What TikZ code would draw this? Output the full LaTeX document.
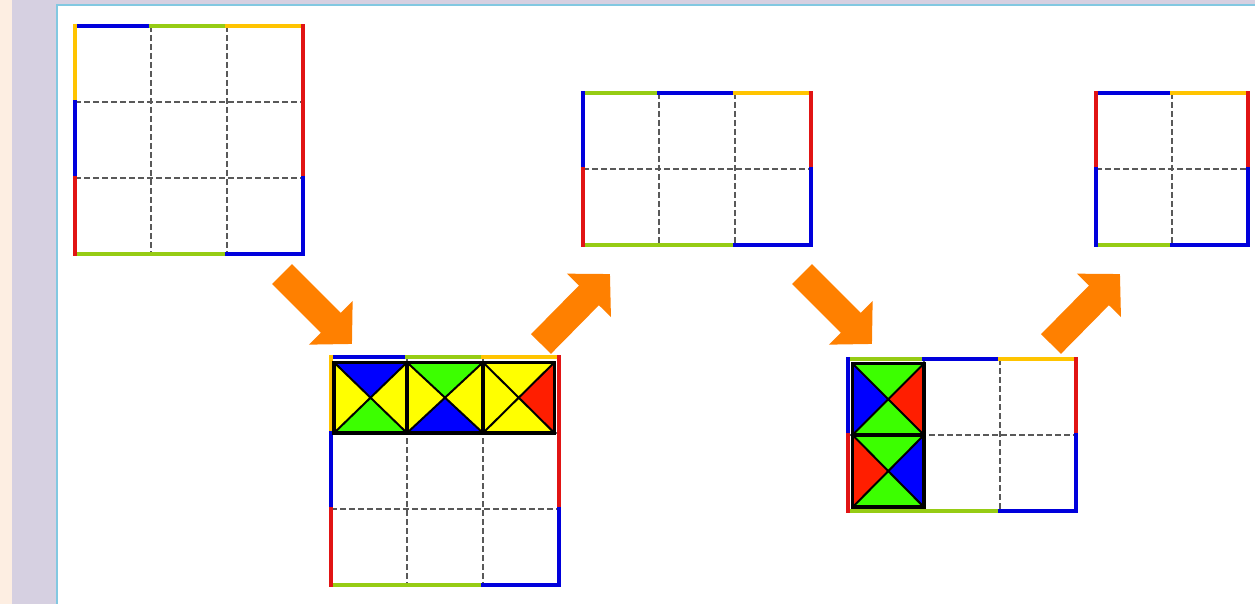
\documentclass[tikz,border=0pt]{standalone}
\usetikzlibrary{arrows.meta}

\definecolor{rimblue}{RGB}{0,0,220}
\definecolor{rimgreen}{RGB}{150,204,20}
\definecolor{rimyellow}{RGB}{255,196,0}
\definecolor{rimred}{RGB}{225,20,20}
\definecolor{tileblue}{RGB}{0,0,255}
\definecolor{tilegreen}{RGB}{60,255,0}
\definecolor{tileyellow}{RGB}{255,255,0}
\definecolor{tilered}{RGB}{255,30,0}
\definecolor{flow}{RGB}{255,128,0}
\definecolor{peach}{RGB}{253,238,226}
\definecolor{lavender}{RGB}{214,208,225}
\definecolor{panelrim}{RGB}{130,200,225}

% one tile: corners (#1,#2) and (#3,#4), then top, right, bottom, left colours
\newcommand{\tile}[8]{%
  \coordinate (tc) at ({(#1+#3)/2},{(#2+#4)/2});
  \fill[#5] (#1,#2) -- (#3,#2) -- (tc) -- cycle;
  \fill[#6] (#3,#2) -- (#3,#4) -- (tc) -- cycle;
  \fill[#7] (#3,#4) -- (#1,#4) -- (tc) -- cycle;
  \fill[#8] (#1,#4) -- (#1,#2) -- (tc) -- cycle;
  \draw[diag] (#1,#2) -- (#3,#4) (#3,#2) -- (#1,#4);
  \draw[frame] (#1,#2) rectangle (#3,#4);
}

\begin{document}
\begin{tikzpicture}[
x=1pt, y=-1pt,
rim/.style={line width=4.5pt, line cap=rect},
guide/.style={dashed, dash pattern=on 6pt off 3pt, line width=1.4pt, black!65},
diag/.style={line width=2pt, black},
frame/.style={line width=3.6pt, black},
flowarrow/.style={-{Triangle[length=30pt, width=60pt]}, line width=28pt, flow}
]
\useasboundingbox (0,0) rectangle (1255,604);

% page background
\fill[peach] (0,0) rectangle (12,604);
\fill[lavender] (12,0) rectangle (1255,604);
\draw[panelrim, line width=1.2pt, fill=white] (57,5) rectangle (1262,612);

% 3x3 board
\begin{scope}[shift={(75,26)}, x=76pt, y=-76pt]
\foreach \i in {1,2} {
  \draw[guide] (\i,0) -- (\i,3);
  \draw[guide] (0,\i) -- (3,\i);
}
\draw[rim, rimblue] (0,0) -- (1,0);
\draw[rim, rimgreen] (1,0) -- (2,0);
\draw[rim, rimyellow] (2,0) -- (3,0);
\draw[rim, rimred] (3,0) -- (3,2);
\draw[rim, rimblue] (3,2) -- (3,3);
\draw[rim, rimgreen] (0,3) -- (2,3);
\draw[rim, rimblue] (2,3) -- (3,3);
\draw[rim, rimyellow] (0,0) -- (0,1);
\draw[rim, rimblue] (0,1) -- (0,2);
\draw[rim, rimred] (0,2) -- (0,3);
\end{scope}

% 3x3 board, first row placed
\begin{scope}[shift={(331,357)}, x=76pt, y=-76pt]
\foreach \i in {1,2} {
  \draw[guide] (\i,0) -- (\i,3);
  \draw[guide] (0,\i) -- (3,\i);
}
\draw[rim, rimblue] (0,0) -- (1,0);
\draw[rim, rimgreen] (1,0) -- (2,0);
\draw[rim, rimyellow] (2,0) -- (3,0);
\draw[rim, rimred] (3,0) -- (3,2);
\draw[rim, rimblue] (3,2) -- (3,3);
\draw[rim, rimgreen] (0,3) -- (2,3);
\draw[rim, rimblue] (2,3) -- (3,3);
\draw[rim, rimyellow] (0,0) -- (0,1);
\draw[rim, rimblue] (0,1) -- (0,2);
\draw[rim, rimred] (0,2) -- (0,3);
\tile{0.04}{0.07}{1}{1}{tileblue}{tileyellow}{tilegreen}{tileyellow}
\tile{1}{0.07}{2}{1}{tilegreen}{tileyellow}{tileblue}{tileyellow}
\tile{2}{0.07}{2.94}{1}{tileyellow}{tilered}{tileyellow}{tileyellow}
\end{scope}

% 3x2 board
\begin{scope}[shift={(583,93)}, x=76pt, y=-76pt]
\foreach \i in {1,2}
  \draw[guide] (\i,0) -- (\i,2);
\draw[guide] (0,1) -- (3,1);
\draw[rim, rimgreen] (0,0) -- (1,0);
\draw[rim, rimblue] (1,0) -- (2,0);
\draw[rim, rimyellow] (2,0) -- (3,0);
\draw[rim, rimred] (3,0) -- (3,1);
\draw[rim, rimblue] (3,1) -- (3,2);
\draw[rim, rimgreen] (0,2) -- (2,2);
\draw[rim, rimblue] (2,2) -- (3,2);
\draw[rim, rimblue] (0,0) -- (0,1);
\draw[rim, rimred] (0,1) -- (0,2);
\end{scope}

% 3x2 board, first column placed
\begin{scope}[shift={(848,359)}, x=76pt, y=-76pt]
\foreach \i in {1,2}
  \draw[guide] (\i,0) -- (\i,2);
\draw[guide] (0,1) -- (3,1);
\draw[rim, rimgreen] (0,0) -- (1,0);
\draw[rim, rimblue] (1,0) -- (2,0);
\draw[rim, rimyellow] (2,0) -- (3,0);
\draw[rim, rimred] (3,0) -- (3,1);
\draw[rim, rimblue] (3,1) -- (3,2);
\draw[rim, rimgreen] (0,2) -- (2,2);
\draw[rim, rimblue] (2,2) -- (3,2);
\draw[rim, rimblue] (0,0) -- (0,1);
\draw[rim, rimred] (0,1) -- (0,2);
\tile{0.06}{0.06}{1}{1}{tilegreen}{tilered}{tilegreen}{tileblue}
\tile{0.06}{1}{1}{1.95}{tilegreen}{tileblue}{tilegreen}{tilered}
\end{scope}

% 2x2 board
\begin{scope}[shift={(1096,93)}, x=76pt, y=-76pt]
\draw[guide] (1,0) -- (1,2);
\draw[guide] (0,1) -- (2,1);
\draw[rim, rimblue] (0,0) -- (1,0);
\draw[rim, rimyellow] (1,0) -- (2,0);
\draw[rim, rimred] (2,0) -- (2,1);
\draw[rim, rimblue] (2,1) -- (2,2);
\draw[rim, rimgreen] (0,2) -- (1,2);
\draw[rim, rimblue] (1,2) -- (2,2);
\draw[rim, rimred] (0,0) -- (0,1);
\draw[rim, rimblue] (0,1) -- (0,2);
\end{scope}

% arrows between the boards
\coordinate (down1) at (282,274);
\coordinate (down1end) at (352,344);
\coordinate (up1) at (541,344);
\coordinate (up1end) at (610,274);
\coordinate (down2) at (802,274);
\coordinate (down2end) at (872,344);
\coordinate (up2) at (1051,344);
\coordinate (up2end) at (1120,274);

\draw[flowarrow] (down1) -- (down1end);
\draw[flowarrow] (up1) -- (up1end);
\draw[flowarrow] (down2) -- (down2end);
\draw[flowarrow] (up2) -- (up2end);
\end{tikzpicture}
\end{document}
